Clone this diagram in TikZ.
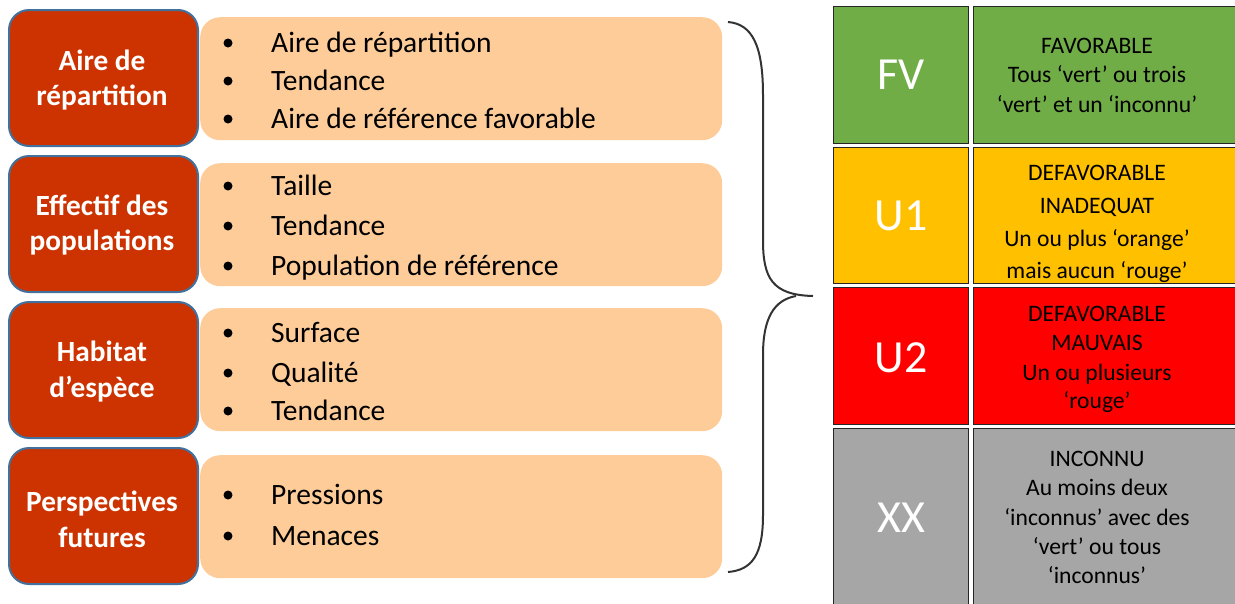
\documentclass[tikz,border=0pt]{standalone}
\usepackage{fontspec}
\setmainfont{Carlito}
\definecolor{redbox}{HTML}{CC3300}
\definecolor{redborder}{HTML}{41719C}
\definecolor{peach}{HTML}{FECC99}
\definecolor{fvgreen}{HTML}{70AD47}
\definecolor{uoneyellow}{HTML}{FFC000}
\definecolor{utwored}{HTML}{FF0000}
\definecolor{xxgray}{HTML}{A6A6A6}
\begin{document}
\begin{tikzpicture}[x=1pt,y=-1pt,
  cat/.style={draw=redborder, line width=2pt, fill=redbox, rounded corners=20pt,
    minimum width=189, minimum height=136, anchor=north west, inner sep=0},
  peachbox/.style={fill=peach, rounded corners=20pt, minimum width=522,
    minimum height=123, anchor=north west, inner sep=0},
  cattext/.style={text=white, font=\fontsize{29.3}{34}\selectfont\bfseries, inner sep=0, anchor=base},
  item/.style={text=black, font=\fontsize{29.5}{34}\selectfont, inner sep=0, anchor=base west},
  bul/.style={circle, fill=black, inner sep=0, minimum size=9},
  cell/.style={draw=black!85, line width=1pt, anchor=north west, inner sep=0},
  big/.style={text=white, font=\fontsize{46}{50}\selectfont, inner sep=0, anchor=base},
  desc/.style={text=black, font=\fontsize{23.6}{26}\selectfont, inner sep=0, anchor=base},
  bracestyle/.style={draw=black!80, line width=2pt}
]
\useasboundingbox (0,0) rectangle (1235,603);

% left category boxes
\node[cat] (c1) at (8,9) {};
\node[cat] (c2) at (8,155) {};
\node[cat] (c3) at (8,301) {};
\node[cat] (c4) at (8,447) {};
\node[cattext] (c1a) at (102,70) {Aire de};
\node[cattext] (c1b) at (102,105) {répartition};
\node[cattext] (c2a) at (102,215) {Effectif des};
\node[cattext] (c2b) at (102,250) {populations};
\node[cattext] (c3a) at (102,361) {Habitat};
\node[cattext] (c3b) at (102,397) {d’espèce};
\node[cattext] (c4a) at (102,511) {Perspectives};
\node[cattext] (c4b) at (102,547) {futures};

% peach boxes
\node[peachbox] (p1) at (200,17) {};
\node[peachbox] (p2) at (200,163) {};
\node[peachbox] (p3) at (200,308) {};
\node[peachbox] (p4) at (200,455) {};

\node[bul] (b1a) at (228,43) {};
\node[bul] (b1b) at (228,81) {};
\node[bul] (b1c) at (228,119) {};
\node[item] (t1a) at (271,52) {Aire de répartition};
\node[item] (t1b) at (271,90) {Tendance};
\node[item] (t1c) at (271,128) {Aire de référence favorable};

\node[bul] (b2a) at (228,186) {};
\node[bul] (b2b) at (228,226) {};
\node[bul] (b2c) at (228,266) {};
\node[item] (t2a) at (271,195) {Taille};
\node[item] (t2b) at (271,235) {Tendance};
\node[item] (t2c) at (271,275) {Population de référence};

\node[bul] (b3a) at (228,333) {};
\node[bul] (b3b) at (228,373) {};
\node[bul] (b3c) at (228,411) {};
\node[item] (t3a) at (271,342) {Surface};
\node[item] (t3b) at (271,382) {Qualité};
\node[item] (t3c) at (271,420) {Tendance};

\node[bul] (b4a) at (228,495) {};
\node[bul] (b4b) at (228,536) {};
\node[item] (t4a) at (271,504) {Pressions};
\node[item] (t4b) at (271,545) {Menaces};

% brace
\coordinate (brtop) at (728,22);
\coordinate (brtip) at (813,296);
\coordinate (brbot) at (728,572);
\draw[bracestyle] (brtop) .. controls (752,24) and (763,45) .. (763,95)
  -- (763,240) .. controls (763,278) and (772,295) .. (brtip);
\draw[bracestyle] (796,296) .. controls (774,300) and (763,318) .. (763,355)
  -- (763,515) .. controls (763,555) and (752,570) .. (brbot);

% right table
\node[cell, fill=fvgreen, minimum width=135, minimum height=137] (fvL) at (833,6) {};
\node[cell, fill=fvgreen, minimum width=270, minimum height=137] (fvR) at (973,6) {};
\node[cell, fill=uoneyellow, minimum width=135, minimum height=136] (u1L) at (833,147) {};
\node[cell, fill=uoneyellow, minimum width=270, minimum height=136] (u1R) at (973,147) {};
\node[cell, fill=utwored, minimum width=135, minimum height=137] (u2L) at (833,287) {};
\node[cell, fill=utwored, minimum width=270, minimum height=137] (u2R) at (973,287) {};
\node[cell, fill=xxgray, minimum width=135, minimum height=190] (xxL) at (833,428) {};
\node[cell, fill=xxgray, minimum width=270, minimum height=190] (xxR) at (973,428) {};

\node[big] (fv) at (901,89) {FV};
\node[big] (u1) at (901,230) {U1};
\node[big] (u2) at (901,372) {U2};
\node[big] (xx) at (901,532) {XX};

\node[desc] (d1a) at (1097,53) {FAVORABLE};
\node[desc] (d1b) at (1097,82) {Tous ‘vert’ ou trois};
\node[desc] (d1c) at (1097,112) {‘vert’ et un ‘inconnu’};

\node[desc] (d2a) at (1097,180) {DEFAVORABLE};
\node[desc] (d2b) at (1097,213) {INADEQUAT};
\node[desc] (d2c) at (1097,246) {Un ou plus ‘orange’};
\node[desc] (d2d) at (1097,278) {mais aucun ‘rouge’};

\node[desc] (d3a) at (1097,321) {DEFAVORABLE};
\node[desc] (d3b) at (1097,350) {MAUVAIS};
\node[desc] (d3c) at (1097,380) {Un ou plusieurs};
\node[desc] (d3d) at (1097,408) {‘rouge’};

\node[desc] (d4a) at (1097,466) {INCONNU};
\node[desc] (d4b) at (1097,495) {Au moins deux};
\node[desc] (d4c) at (1097,525) {‘inconnus’ avec des};
\node[desc] (d4d) at (1097,554) {‘vert’ ou tous};
\node[desc] (d4e) at (1097,583) {‘inconnus’};
\end{tikzpicture}
\end{document}
